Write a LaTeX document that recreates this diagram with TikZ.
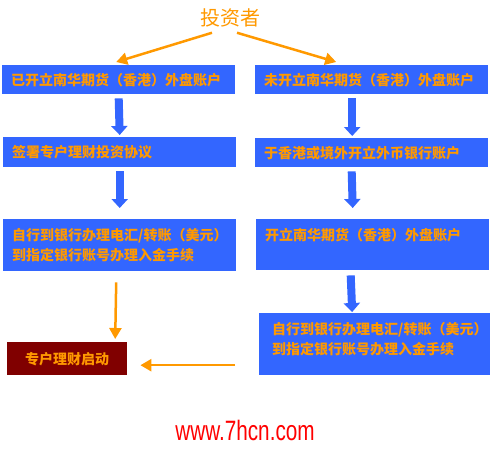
\documentclass[tikz,border=0pt]{standalone}
\usepackage{fontspec}
\usetikzlibrary{arrows.meta}
\newfontfamily\cjk{Noto Sans CJK SC}
\newfontfamily\urlfont[FakeStretch=0.74]{Liberation Sans}
\definecolor{boxblue}{HTML}{3366FF}
\definecolor{txtorg}{HTML}{FF9900}
\definecolor{startred}{HTML}{800000}
\definecolor{urlred}{HTML}{FF0000}
\tikzset{
  blk/.style={rectangle,anchor=north west,inner ysep=0pt,font=\cjk\bfseries\fontsize{14pt}{20pt}\selectfont,text=txtorg},
  bluebox/.style={blk,fill=boxblue,minimum width=233pt,text width=215pt,inner xsep=9pt,align=left},
  startbox/.style={blk,fill=startred,minimum width=120pt,minimum height=33pt,align=center},
  barr/.style={draw=boxblue,line width=8pt,-{Triangle[width=16pt,length=9pt]}},
  oarr/.style={draw=txtorg,line width=2.5pt,-{Triangle[width=12pt,length=11pt]}}
}
\begin{document}
\begin{tikzpicture}[x=1pt,y=-1pt]
  \useasboundingbox[fill=white] (0,0) rectangle (490,461);
  \node[font=\cjk\fontsize{20pt}{20pt}\selectfont,text=txtorg] (invst) at (230,18) {投资者};
  % left branch
  \node[bluebox,minimum height=29pt] (l1) at (2,65) {已开立南华期货（香港）外盘账户};
  \node[bluebox,minimum height=30pt] (l2) at (3,137) {签署专户理财投资协议};
  \node[bluebox,minimum height=52pt] (l3) at (3,219) {自行到银行办理电汇/转账（美元）\\到指定银行账号办理入金手续};
  \node[startbox] (start) at (7,342) {专户理财启动};
  % right branch
  \node[bluebox,minimum height=29pt] (r1) at (255,65) {未开立南华期货（香港）外盘账户};
  \node[bluebox,minimum height=29pt] (r2) at (255,138) {于香港或境外开立外币银行账户};
  \node[bluebox,minimum height=51pt] (r3) at (256,219) {开立南华期货（香港）外盘账户\\\mbox{}};
  \node[bluebox,minimum height=62pt,inner xsep=11pt,text width=207pt] (r4) at (259,313) {自行到银行办理电汇/转账（美元）\\到指定银行账号办理入金手续\\[-8pt]\mbox{}};

  \draw[oarr] ([xshift=-18pt,yshift=-2pt]invst.south) -- ([xshift=-2.5pt,yshift=3pt]l1.north);
  \draw[oarr] ([xshift=7pt,yshift=-2pt]invst.south) -- ([xshift=-35.5pt,yshift=3pt]r1.north);
  \draw[barr] ([yshift=-4pt]l1.south) -- ([yshift=2pt]l2.north);
  \draw[barr] ([yshift=-4pt]l2.south) -- ([yshift=11pt]l3.north);
  \draw[barr] ([xshift=-19.5pt,yshift=-4pt]r1.south) -- ([xshift=-19.5pt,yshift=2pt]r2.north);
  \draw[barr] ([xshift=-20pt,yshift=-4pt]r2.south) -- ([xshift=-20pt,yshift=11pt]r3.north);
  \draw[barr] ([xshift=-22pt,yshift=-5pt]r3.south) -- ([xshift=-23.5pt,yshift=1pt]r4.north);
  \draw[oarr] ([xshift=-3.5pt,yshift=-11pt]l3.south) -- ([xshift=48pt,yshift=3pt]start.north);
  \draw[oarr] ([xshift=-24pt,yshift=-21pt]r4.west) -- ([xshift=13pt,yshift=-6.5pt]start.east);

  \node[font=\urlfont\fontsize{28pt}{28pt}\selectfont,text=urlred] (url) at (245,430) {www.7hcn.com};
\end{tikzpicture}
\end{document}
